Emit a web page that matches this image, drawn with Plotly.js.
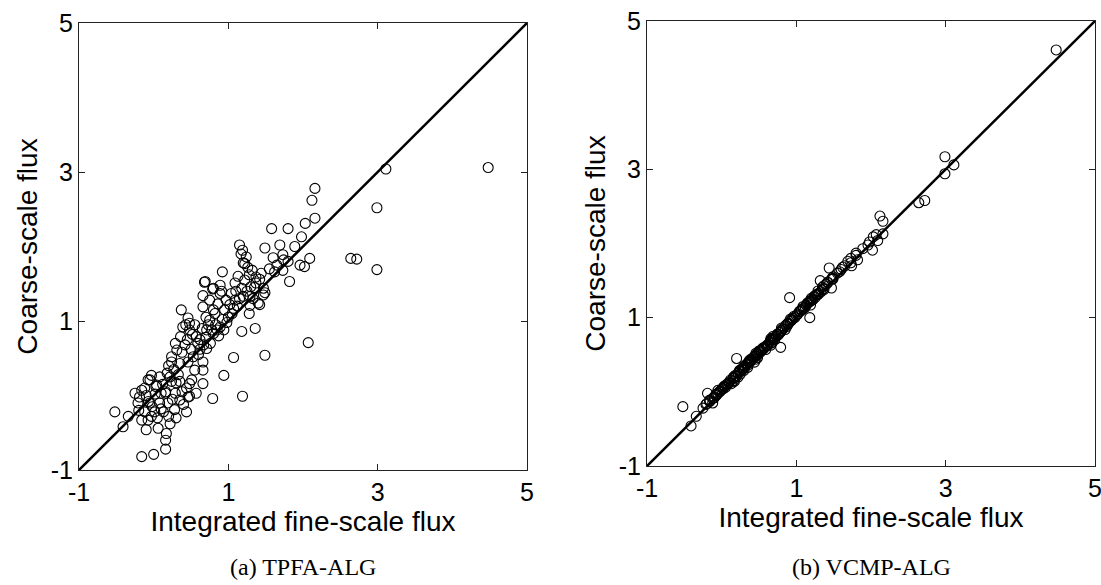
<!DOCTYPE html>
<html>
<head>
<meta charset="utf-8">
<script src="https://cdn.plot.ly/plotly-3.0.1.min.js"></script>
<style>html,body{margin:0;padding:0;background:#fff;}#chart{width:1101px;height:585px;}</style>
</head>
<body>
<div id="chart"></div>
<script>
// Integrated fine-scale flux (shared by both panels)
const fineFlux = [
 4.48, 3.11, 2.99, 2.99, 2.64, 2.72, 2.16, 2.12, 2.16, 2.03,
 1.98, 1.89, 2.09, 2.02, 2.07, 1.80, 1.58, 1.69, 1.73, 1.74,
 1.80, 1.96, 1.82, 1.73, 1.62, 1.49, 1.44, 1.37, 1.32, 1.42,
 1.47, 1.37, 1.30, 1.18, 1.09, 1.04, 1.09, 1.20, 1.29, 1.47,
 1.29, 1.40, 1.15, 1.19, 1.17, 1.24, 1.22, 1.26, 0.92, 0.69,
 0.80, 0.66, 0.89, 0.75, 0.86, 0.97, 0.66, 0.80, 0.95, 1.07,
 0.37, 0.46, 1.18, 1.36, 1.49, 1.07, 0.94, 1.19, 0.79, 0.66,
 0.66, 0.66, 0.24, 0.31, 0.29, 0.36, 0.39, 0.48, 0.48, 0.57,
 0.59, 0.71, 0.75, 0.82, 0.89, 0.80, 0.71, 0.53, 0.46, 0.22,
 0.35, 0.48, 0.57, 0.46, 0.44, -0.05, 0.03, 0.16, -0.07, 0.08,
 -0.52, -0.41, -0.34, -0.25, -0.16, 0.00, 0.16, 0.16, 0.17, -0.10,
 0.06, -0.16, -0.075, -0.12, -0.05, -0.21, -0.19, -0.075, -0.12, 0.04,
 0.10, 0.16, 0.19, 0.015, 0.13, 0.28, 0.35, 0.24, 0.30, 0.44,
 0.48, 0.51, 0.24, 0.35, 0.55, 0.29, -0.16, -0.03, 0.68, 0.79,
 0.89, 0.91, 0.43, 0.20, 1.28, 1.42, 1.49, 1.20,
 -0.02, 0.05, 0.10, 0.20, 0.25, 0.12, 0.02, -0.10, 0.30, 0.22,
 -0.03, 0.38, 0.33, 0.18, 0.08, -0.20, 0.40, 0.27,
 0.50, 0.62, 0.65, 0.70, 0.76, 0.83, 0.87, 0.60, 0.42, 0.52,
 0.73, 0.78, 0.85, 0.92, 0.98, 0.62, 0.55, 0.70, 0.38, 0.45,
 0.67, 0.94,
 1.00, 1.05, 1.12, 1.15, 1.10, 1.25, 1.33, 1.02, 1.13, 1.22,
 1.28, 1.35, 1.55, 1.60, 1.65
];

// Coarse-scale flux, (a) TPFA-ALG
const coarseTPFA = [
 3.06, 3.04, 2.52, 1.69, 1.84, 1.83, 2.78, 2.62, 2.38, 2.31,
 2.13, 2.00, 1.84, 1.73, 0.71, 2.24, 2.24, 2.02, 1.89, 1.82,
 1.80, 1.75, 1.53, 1.68, 1.66, 1.98, 1.64, 1.59, 1.68, 1.56,
 1.44, 1.51, 1.46, 1.44, 1.51, 1.37, 1.28, 1.33, 1.33, 1.35,
 1.21, 1.24, 2.02, 1.95, 1.90, 1.86, 1.77, 1.72, 1.66, 1.53,
 1.44, 1.34, 1.48, 1.28, 1.23, 1.28, 1.19, 1.15, 1.15, 1.17,
 1.15, 1.04, 0.86, 0.90, 0.54, 0.51, 0.27, -0.01, -0.04, 0.34,
 0.16, 0.45, 0.52, 0.61, 0.70, 0.79, 0.92, 0.97, 0.88, 0.79,
 0.70, 0.88, 1.01, 1.10, 0.92, 0.83, 0.63, 0.52, 0.45, 0.25,
 0.19, 0.16, 0.03, -0.02, -0.22, 0.21, 0.12, 0.03, -0.08, -0.10,
 -0.22, -0.42, -0.28, 0.03, -0.82, -0.79, -0.72, -0.60, -0.51, -0.46,
 -0.44, -0.33, -0.33, -0.22, -0.10, -0.10, -0.02, 0.21, 0.10, 0.14,
 0.03, 0.05, -0.10, -0.22, -0.22, -0.19, -0.06, 0.19, 0.17, 0.10,
 -0.01, 0.21, 0.45, 0.43, 0.34, 0.03, 0.07, 0.27, 1.52, 1.43,
 1.37, 1.40, 0.95, 0.40, 1.10, 1.22, 1.38, 1.78,
 -0.15, -0.30, -0.18, -0.28, -0.05, 0.15, 0.02, 0.00, -0.30, -0.38,
 -0.28, 0.05, 0.28, 0.30, 0.25, -0.20, -0.12, 0.35,
 0.62, 0.75, 0.90, 0.78, 0.70, 0.95, 0.80, 0.55, 0.68, 0.82,
 0.95, 0.88, 0.88, 1.02, 0.98, 0.62, 0.95, 1.05, 0.58, 0.75,
 0.68, 0.88,
 1.05, 1.10, 1.20, 1.30, 1.40, 1.40, 1.30, 1.22, 1.60, 1.55,
 1.62, 1.45, 1.70, 1.85, 1.75
];

// Coarse-scale flux, (b) VCMP-ALG
const coarseVCMP = [
 4.61, 3.06, 2.94, 3.17, 2.55, 2.58, 2.30, 2.37, 2.13, 2.09,
 2.02, 1.93, 2.04, 1.91, 2.12, 1.84, 1.62, 1.76, 1.80, 1.70,
 1.87, 1.98, 1.78, 1.74, 1.68, 1.55, 1.67, 1.43, 1.50, 1.48,
 1.40, 1.38, 1.33, 1.22, 1.12, 1.08, 1.15, 1.26, 1.31, 1.52,
 1.36, 1.45, 1.20, 1.17, 1.21, 1.29, 1.24, 1.30, 0.98, 0.75,
 0.86, 0.70, 0.91, 0.78, 0.90, 1.02, 0.72, 0.83, 0.99, 1.10,
 0.42, 0.52, 1.00, 1.39, 1.53, 1.11, 0.97, 1.23, 0.60, 0.66,
 0.63, 0.70, 0.28, 0.35, 0.33, 0.40, 0.44, 0.52, 0.50, 0.60,
 0.57, 0.74, 0.78, 0.85, 0.93, 0.82, 0.70, 0.55, 0.48, 0.25,
 0.38, 0.46, 0.59, 0.44, 0.40, 0.02, 0.07, 0.19, -0.04, 0.10,
 -0.20, -0.46, -0.33, -0.22, -0.13, 0.03, 0.15, 0.18, 0.14, -0.08,
 0.09, -0.11, -0.05, -0.15, -0.02, -0.17, -0.02, -0.03, -0.09, 0.08,
 0.12, 0.20, 0.22, 0.05, 0.11, 0.30, 0.33, 0.27, 0.34, 0.47,
 0.51, 0.53, 0.29, 0.36, 0.57, 0.31, -0.12, 0.00, 0.72, 0.81,
 0.92, 1.27, 0.46, 0.45, 1.32, 1.47, 1.52, 1.23,
 0.01, 0.06, 0.13, 0.21, 0.24, 0.16, 0.04, -0.07, 0.29, 0.20,
 0.00, 0.40, 0.37, 0.22, 0.11, -0.16, 0.43, 0.31,
 0.55, 0.64, 0.68, 0.71, 0.77, 0.86, 0.88, 0.62, 0.46, 0.56,
 0.75, 0.80, 0.84, 0.95, 1.00, 0.63, 0.59, 0.73, 0.42, 0.49,
 0.66, 0.97,
 1.03, 1.09, 1.14, 1.19, 1.13, 1.27, 1.35, 1.05, 1.17, 1.25,
 1.31, 1.41, 1.60, 1.65, 1.70
];

const identityLine = [-1, 5];
const tickValues = [-1, 1, 3, 5];
const tickLabels = ['-1', '1', '3', '5'];
const xTitle = 'Integrated fine-scale flux';
const yTitle = 'Coarse-scale flux';
const captions = ['(a) TPFA-ALG', '(b) VCMP-ALG'];

const markerStyle = {symbol: 'circle-open', size: 10, color: '#000', line: {width: 1.1, color: '#000'}};
const lineStyle = {color: '#000', width: 2.5};

const traces = [
  {x: identityLine, y: identityLine, mode: 'lines', line: lineStyle, xaxis: 'x', yaxis: 'y', hoverinfo: 'skip'},
  {x: fineFlux, y: coarseTPFA, mode: 'markers', marker: markerStyle, xaxis: 'x', yaxis: 'y'},
  {x: identityLine, y: identityLine, mode: 'lines', line: lineStyle, xaxis: 'x2', yaxis: 'y2', hoverinfo: 'skip'},
  {x: fineFlux, y: coarseVCMP, mode: 'markers', marker: markerStyle, xaxis: 'x2', yaxis: 'y2'}
];

const fontFam = 'Liberation Sans, Arial, sans-serif';
function axis(domain, titleText, anchor) {
  return {
    domain: domain, range: [-1, 5], anchor: anchor,
    tickmode: 'array', tickvals: tickValues, ticktext: tickLabels,
    ticks: 'inside', ticklen: 6, tickcolor: '#222', tickwidth: 1,
    mirror: 'allticks', showline: true, linecolor: '#222', linewidth: 1,
    showgrid: false, zeroline: false,
    ticklabeloverflow: 'allow',
    tickfont: {family: fontFam, size: 25, color: '#000'},
    title: {text: titleText, font: {family: fontFam, size: 28, color: '#000'}, standoff: 4},
    automargin: false, fixedrange: true
  };
}

const layout = {
  width: 1101, height: 585,
  margin: {l: 0, r: 0, t: 0, b: 0},
  paper_bgcolor: '#fff', plot_bgcolor: '#fff',
  showlegend: false,
  xaxis: axis([79/1101, 527/1101], xTitle, 'y'),
  yaxis: axis([1 - 470/585, 1 - 23/585], yTitle, 'x'),
  xaxis2: axis([647/1101, 1095/1101], xTitle, 'y2'),
  yaxis2: axis([1 - 466/585, 1 - 21/585], yTitle, 'x2'),
  annotations: [
    {text: captions[0], xref: 'paper', yref: 'paper', x: 303/1101, y: 1 - 567/585,
     xanchor: 'center', yanchor: 'middle', showarrow: false,
     font: {family: 'Liberation Serif, serif', size: 24, color: '#000'}},
    {text: captions[1], xref: 'paper', yref: 'paper', x: 871/1101, y: 1 - 567/585,
     xanchor: 'center', yanchor: 'middle', showarrow: false,
     font: {family: 'Liberation Serif, serif', size: 24, color: '#000'}}
  ]
};

Plotly.newPlot('chart', traces, layout, {staticPlot: true, displayModeBar: false});
</script>
</body>
</html>
